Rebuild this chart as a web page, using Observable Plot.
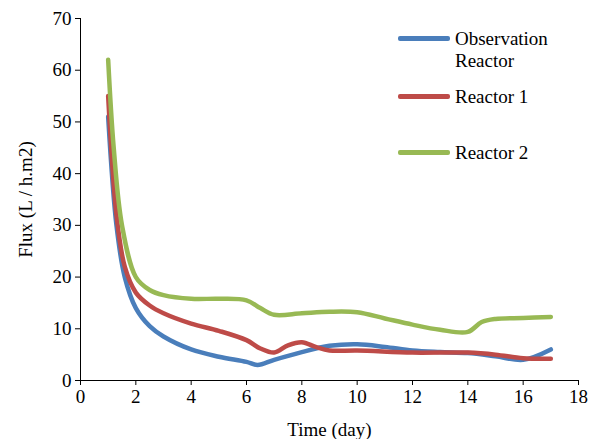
<!DOCTYPE html>
<html><head>
<script src="https://cdn.jsdelivr.net/npm/d3@7"></script>
<script src="https://cdn.jsdelivr.net/npm/@observablehq/plot@0.6"></script>
<style>body{margin:0;background:#fff;font-family:"Liberation Serif",serif}#wrap{position:relative;width:593px;height:439px}
.leg{position:absolute;font-size:19px;color:#000;line-height:22px}
.sw{position:absolute;height:5px;width:52px;border-radius:2px}</style>
</head><body><div id="wrap"></div>
<script>
const blueX=[1,1.3,1.6,2,2.5,3,4,5,6,6.4,7,8,9,10,11,12,13,14,15,16,17];
const blueY=[51,30,20,14,10.5,8.5,6,4.6,3.6,3,4,5.5,6.7,7,6.5,5.8,5.5,5.3,4.7,4,6];
const redX=[1,1.3,1.6,2,2.5,3,4,5,6,6.5,7,7.5,8,8.5,9,10,12,14,15,16,17];
const redY=[55,32,22,17,14.5,13,11,9.6,7.8,6.2,5.4,6.8,7.4,6.5,5.8,5.8,5.4,5.4,5,4.3,4.2];
const greenX=[1,1.2,1.5,2,2.5,3,4,5,6,6.5,7,8,9,10,11,12,13,14,14.5,15,16,17];
const greenY=[62,45,30,20,17.5,16.5,15.8,15.8,15.5,14,12.7,13,13.3,13.2,12,10.8,9.8,9.4,11.3,11.9,12.1,12.3];
const names=["Observation Reactor","Reactor 1","Reactor 2"];
const colors=["#4a7ebb","#be4b48","#98b954"];
const mk=(xs,ys)=>xs.map((x,i)=>({x,y:ys[i]}));
const series=[mk(blueX,blueY),mk(redX,redY),mk(greenX,greenY)];
const chart=Plot.plot({width:593,height:439,marginLeft:80,marginRight:15,marginTop:18,marginBottom:59,
 style:{fontFamily:"Liberation Serif",fontSize:"19px",color:"#000",background:"#fff"},
 x:{domain:[0,18],ticks:d3.range(0,19,2),label:"Time (day)",labelAnchor:"center",labelArrow:"none",labelOffset:55,tickSize:5},
 y:{domain:[0,70],ticks:d3.range(0,71,10),label:"Flux (L / h.m2)",labelAnchor:"center",labelArrow:"none",labelOffset:62,tickSize:5},
 marks:[
  ...series.map((d,i)=>Plot.line(d,{x:"x",y:"y",stroke:colors[i],strokeWidth:4.5,curve:"catmull-rom"})),
  Plot.ruleX([0],{stroke:"#000"}),Plot.ruleY([0],{stroke:"#000"})
 ]});
const w=document.getElementById("wrap");w.appendChild(chart);
const legTops=[[28,"Observation<br>Reactor"],[86,"Reactor 1"],[142,"Reactor 2"]];
legTops.forEach(([t,txt],i)=>{const s=document.createElement("div");s.className="sw";s.style.left="398px";s.style.top=(t+8)+"px";s.style.background=colors[i];w.appendChild(s);
 const l=document.createElement("div");l.className="leg";l.style.left="455px";l.style.top=t+"px";l.innerHTML=txt;w.appendChild(l);});
</script></body></html>
